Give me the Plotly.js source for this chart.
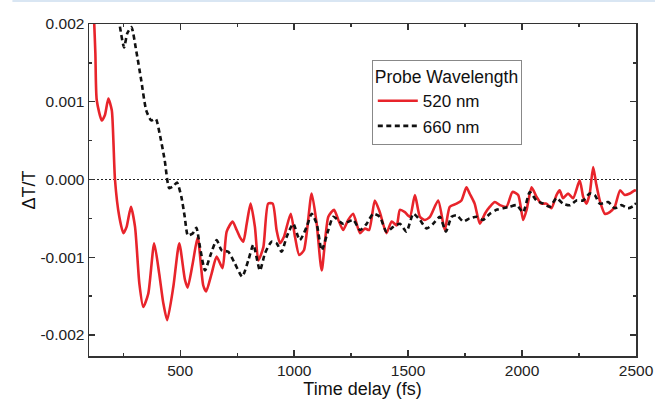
<!DOCTYPE html>
<html>
<head>
<meta charset="utf-8">
<script src="https://cdn.plot.ly/plotly-3.0.1.min.js"></script>
<style>html,body{margin:0;padding:0;background:#fff;}#chart{width:655px;height:403px;}</style>
</head>
<body>
<div id="chart"></div>
<script>
// Time delay (fs) and ΔT/T for probe 520 nm
var t520 = [100, 123, 128, 134, 156, 170, 185, 200, 207, 214, 233, 251, 265, 284, 302, 321, 338, 360, 386, 408, 426, 443, 470, 496, 521, 533, 555, 577, 601, 614, 638, 660, 686, 704, 730, 748, 762, 777, 792, 809, 828, 843, 865, 886, 906, 923, 938, 955, 985, 1004, 1022, 1043, 1077, 1099, 1121, 1150, 1175, 1194, 1215, 1237, 1259, 1289, 1311, 1329, 1354, 1376, 1405, 1428, 1450, 1464, 1486, 1508, 1530, 1552, 1574, 1596, 1632, 1661, 1683, 1713, 1734, 1756, 1770, 1792, 1815, 1837, 1859, 1881, 1903, 1932, 1958, 1983, 2005, 2020, 2042, 2063, 2085, 2107, 2129, 2151, 2165, 2180, 2202, 2224, 2253, 2268, 2283, 2297, 2312, 2325, 2341, 2363, 2385, 2407, 2430, 2451, 2473, 2495, 2500];
var v520 = [3.6e-3, 2.0e-3, 1.62e-3, 1.02e-3, 0.76e-3, 0.83e-3, 1.04e-3, 0.89e-3, 0.5e-3, 0.0, -0.48e-3, -0.69e-3, -0.61e-3, -0.35e-3, -0.61e-3, -1.34e-3, -1.64e-3, -1.47e-3, -0.82e-3, -1.21e-3, -1.59e-3, -1.81e-3, -1.38e-3, -0.82e-3, -1.29e-3, -1.39e-3, -1.08e-3, -0.74e-3, -1.36e-3, -1.44e-3, -1.21e-3, -0.99e-3, -1.14e-3, -0.67e-3, -0.54e-3, -0.65e-3, -0.74e-3, -0.80e-3, -0.57e-3, -0.31e-3, -0.61e-3, -1.04e-3, -0.87e-3, -0.31e-3, -0.31e-3, -0.65e-3, -0.82e-3, -0.74e-3, -0.44e-3, -0.74e-3, -0.97e-3, -0.91e-3, -0.18e-3, -0.57e-3, -1.17e-3, -0.48e-3, -0.39e-3, -0.52e-3, -0.65e-3, -0.52e-3, -0.44e-3, -0.69e-3, -0.63e-3, -0.65e-3, -0.27e-3, -0.42e-3, -0.69e-3, -0.54e-3, -0.59e-3, -0.39e-3, -0.42e-3, -0.48e-3, -0.20e-3, -0.48e-3, -0.52e-3, -0.48e-3, -0.27e-3, -0.65e-3, -0.35e-3, -0.31e-3, -0.27e-3, -0.10e-3, -0.18e-3, -0.31e-3, -0.57e-3, -0.44e-3, -0.35e-3, -0.29e-3, -0.33e-3, -0.35e-3, -0.16e-3, -0.20e-3, -0.52e-3, -0.39e-3, -0.10e-3, -0.22e-3, -0.31e-3, -0.31e-3, -0.37e-3, -0.20e-3, -0.14e-3, -0.24e-3, -0.18e-3, -0.24e-3, -0.01e-3, -0.22e-3, -0.31e-3, -0.18e-3, 0.16e-3, -0.05e-3, -0.27e-3, -0.44e-3, -0.42e-3, -0.35e-3, -0.14e-3, -0.20e-3, -0.18e-3, -0.14e-3, -0.15e-3];

// Time delay (fs) and ΔT/T for probe 660 nm
var t660 = [220, 235, 254, 268, 286, 307, 329, 351, 373, 393, 410, 432, 452, 468, 486, 505, 520, 534, 556, 571, 587, 609, 631, 660, 682, 711, 740, 772, 799, 821, 850, 872, 901, 923, 945, 967, 996, 1025, 1055, 1077, 1099, 1121, 1150, 1172, 1215, 1259, 1289, 1318, 1347, 1376, 1405, 1435, 1464, 1493, 1523, 1552, 1581, 1610, 1639, 1666, 1691, 1713, 1742, 1770, 1800, 1829, 1859, 1888, 1917, 1946, 1976, 2005, 2034, 2063, 2093, 2122, 2151, 2180, 2210, 2239, 2268, 2297, 2319, 2341, 2378, 2407, 2436, 2465, 2495, 2500];
var v660 = [2.4e-3, 1.98e-3, 1.70e-3, 1.88e-3, 1.96e-3, 1.66e-3, 1.28e-3, 0.89e-3, 0.76e-3, 0.78e-3, 0.59e-3, 0.25e-3, -0.11e-3, -0.09e-3, -0.04e-3, -0.22e-3, -0.48e-3, -0.72e-3, -0.69e-3, -0.62e-3, -0.87e-3, -1.17e-3, -0.99e-3, -0.78e-3, -0.91e-3, -0.93e-3, -1.08e-3, -1.25e-3, -1.04e-3, -0.84e-3, -1.17e-3, -0.95e-3, -0.80e-3, -0.82e-3, -0.93e-3, -0.74e-3, -0.57e-3, -0.78e-3, -0.61e-3, -0.44e-3, -0.57e-3, -0.91e-3, -0.65e-3, -0.48e-3, -0.57e-3, -0.52e-3, -0.65e-3, -0.57e-3, -0.44e-3, -0.48e-3, -0.67e-3, -0.61e-3, -0.57e-3, -0.67e-3, -0.44e-3, -0.52e-3, -0.63e-3, -0.57e-3, -0.48e-3, -0.67e-3, -0.48e-3, -0.46e-3, -0.54e-3, -0.50e-3, -0.48e-3, -0.52e-3, -0.44e-3, -0.39e-3, -0.37e-3, -0.35e-3, -0.33e-3, -0.42e-3, -0.16e-3, -0.27e-3, -0.31e-3, -0.35e-3, -0.24e-3, -0.31e-3, -0.33e-3, -0.27e-3, -0.27e-3, -0.18e-3, -0.20e-3, -0.31e-3, -0.29e-3, -0.37e-3, -0.33e-3, -0.37e-3, -0.33e-3, -0.30e-3];

var seriesNames = ['520 nm', '660 nm'];
var legendTitle = 'Probe Wavelength';
var xTitle = 'Time delay (fs)';
var yTitle = '\u0394T/T';
var yTickVals = [-0.002, -0.001, 0, 0.001, 0.002];
var yTickText = ['-0.002', '-0.001', '0.000', '0.001', '0.002'];
var xTickVals = [500, 1000, 1500, 2000, 2500];
var xTickText = ['500', '1000', '1500', '2000', '2500'];

var FONT = 'Liberation Sans, Arial, sans-serif';

var traces = [
  {x: t520, y: v520, name: seriesNames[0], type: 'scatter', mode: 'lines',
   line: {color: '#e8242b', width: 2.6, shape: 'spline', smoothing: 0.6}},
  {x: t660, y: v660, name: seriesNames[1], type: 'scatter', mode: 'lines',
   line: {color: '#111111', width: 2.6, dash: '5px,3.5px', shape: 'spline', smoothing: 0.6}}
];

var axisCommon = {
  showline: true, linecolor: '#333', linewidth: 1.5, mirror: 'allticks',
  ticks: 'inside', ticklen: 6, tickwidth: 1.3, tickcolor: '#333',
  showgrid: false, zeroline: false,
  tickfont: {family: FONT, size: 15.5, color: '#222'}
};

var layout = {
  width: 655, height: 403,
  margin: {l: 89, r: 19, t: 24, b: 47},
  paper_bgcolor: '#fff', plot_bgcolor: '#fff',
  showlegend: true,
  legend: {
    x: 0.517, y: 0.893, xanchor: 'left', yanchor: 'top',
    bgcolor: '#fff', bordercolor: '#888', borderwidth: 1,
    font: {family: FONT, size: 17, color: '#111'},
    title: {text: legendTitle, font: {family: FONT, size: 17.5, color: '#111'}},
    tracegroupgap: 0, itemwidth: 40
  },
  xaxis: Object.assign({}, axisCommon, {
    range: [100, 2500], tickmode: 'array', tickvals: xTickVals, ticktext: xTickText,
    minor: {dtick: 250, tick0: 0, ticks: 'inside', ticklen: 3, tickcolor: '#333', tickwidth: 1.3},
    title: {text: xTitle, font: {family: FONT, size: 18, color: '#111'}, standoff: 4}
  }),
  yaxis: Object.assign({}, axisCommon, {
    range: [-0.00227, 0.002], tickmode: 'array', tickvals: yTickVals, ticktext: yTickText,
    minor: {dtick: 0.0005, tick0: 0, ticks: 'inside', ticklen: 3, tickcolor: '#333', tickwidth: 1.3},
    title: {text: yTitle, font: {family: FONT, size: 18, color: '#111'}, standoff: 0}
  }),
  shapes: [
    {type: 'line', xref: 'paper', x0: 0, x1: 1, yref: 'y', y0: 0, y1: 0,
     line: {color: '#222', width: 1, dash: '2px,2px'}, layer: 'below'},
    {type: 'rect', xref: 'paper', x0: -0.14, x1: 1.035, yref: 'paper', y0: 1.066, y1: 1.0723,
     fillcolor: '#d9e6f3', line: {width: 0}}
  ]
};

Plotly.newPlot('chart', traces, layout, {displayModeBar: false, staticPlot: true});
</script>
</body>
</html>
